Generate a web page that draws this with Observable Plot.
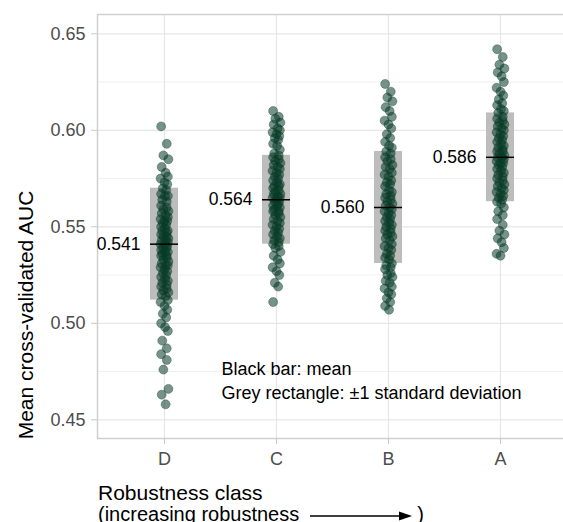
<!DOCTYPE html>
<html>
<head>
<meta charset="utf-8">
<script src="https://cdn.jsdelivr.net/npm/d3@7"></script>
<script src="https://cdn.jsdelivr.net/npm/@observablehq/plot@0.6"></script>
<style>
  body { margin: 0; background: white; font-family: "Liberation Sans", Arial, sans-serif; }
  #wrap { position: relative; width: 563px; height: 522px; overflow: hidden; }
  #xtitle { position: absolute; left: 98px; top: 482px; font-size: 21px; line-height: 21px; color: #000; white-space: nowrap; }
  #xtitle .l2 { font-size: 20px; }
  #xtitle svg { vertical-align: middle; margin-left: 11px; margin-right: 5px; }
  #ytitle { position: absolute; left: 26px; top: 315px; font-size: 21px; color: #000; white-space: nowrap; transform: translate(-50%, -50%) rotate(-90deg); }
</style>
</head>
<body>
<div id="wrap">
  <div id="chart"></div>
  <div id="ytitle"></div>
  <div id="xtitle">Robustness class<br><span class="l2">(increasing robustness<svg width="102" height="10" viewBox="0 0 102 10"><line x1="0" y1="5" x2="92" y2="5" stroke="#000" stroke-width="1.4"/><path d="M89,0.5 L102,5 L89,9.5 Z" fill="#000"/></svg>)</span></div>
</div>
<script>
const classes = ["D", "C", "B", "A"];

const valuesD = [0.602, 0.593, 0.587, 0.585, 0.581, 0.578, 0.576, 0.575, 0.573, 0.572, 0.570, 0.569, 0.567, 0.566, 0.566, 0.564, 0.563, 0.561, 0.560, 0.559, 0.558, 0.557, 0.556, 0.555, 0.554, 0.553, 0.553, 0.552, 0.551, 0.550, 0.549, 0.548, 0.548, 0.547, 0.546, 0.545, 0.545, 0.544, 0.543, 0.543, 0.542, 0.541, 0.541, 0.540, 0.539, 0.539, 0.538, 0.537, 0.537, 0.536, 0.535, 0.535, 0.534, 0.533, 0.532, 0.531, 0.530, 0.530, 0.529, 0.528, 0.527, 0.526, 0.525, 0.524, 0.523, 0.522, 0.521, 0.520, 0.519, 0.518, 0.517, 0.516, 0.515, 0.514, 0.512, 0.511, 0.509, 0.507, 0.505, 0.503, 0.500, 0.498, 0.496, 0.491, 0.487, 0.484, 0.481, 0.476, 0.466, 0.463, 0.458];
const valuesC = [0.610, 0.607, 0.606, 0.604, 0.603, 0.601, 0.600, 0.599, 0.598, 0.597, 0.596, 0.595, 0.593, 0.592, 0.590, 0.588, 0.587, 0.586, 0.585, 0.584, 0.583, 0.582, 0.581, 0.580, 0.579, 0.578, 0.577, 0.576, 0.575, 0.574, 0.573, 0.572, 0.571, 0.571, 0.570, 0.569, 0.568, 0.567, 0.567, 0.566, 0.565, 0.565, 0.564, 0.563, 0.563, 0.562, 0.561, 0.561, 0.560, 0.559, 0.558, 0.558, 0.557, 0.556, 0.555, 0.554, 0.553, 0.552, 0.551, 0.550, 0.549, 0.548, 0.547, 0.546, 0.545, 0.544, 0.543, 0.542, 0.541, 0.540, 0.539, 0.537, 0.535, 0.533, 0.531, 0.529, 0.527, 0.525, 0.521, 0.519, 0.511];
const valuesB = [0.624, 0.620, 0.617, 0.615, 0.612, 0.610, 0.607, 0.605, 0.603, 0.601, 0.598, 0.596, 0.594, 0.592, 0.591, 0.589, 0.588, 0.586, 0.585, 0.584, 0.582, 0.581, 0.580, 0.578, 0.577, 0.576, 0.574, 0.573, 0.572, 0.571, 0.569, 0.568, 0.567, 0.566, 0.565, 0.564, 0.563, 0.562, 0.561, 0.560, 0.559, 0.558, 0.557, 0.556, 0.555, 0.554, 0.553, 0.552, 0.551, 0.550, 0.549, 0.548, 0.547, 0.546, 0.545, 0.544, 0.543, 0.541, 0.540, 0.539, 0.538, 0.536, 0.535, 0.534, 0.533, 0.531, 0.530, 0.529, 0.528, 0.526, 0.525, 0.524, 0.522, 0.521, 0.519, 0.518, 0.516, 0.515, 0.513, 0.511, 0.509, 0.507];
const valuesA = [0.642, 0.638, 0.634, 0.632, 0.630, 0.628, 0.625, 0.622, 0.620, 0.618, 0.616, 0.614, 0.613, 0.611, 0.610, 0.609, 0.607, 0.606, 0.605, 0.604, 0.603, 0.602, 0.601, 0.600, 0.599, 0.598, 0.597, 0.596, 0.595, 0.594, 0.593, 0.592, 0.591, 0.590, 0.589, 0.589, 0.588, 0.587, 0.586, 0.586, 0.585, 0.584, 0.583, 0.583, 0.582, 0.581, 0.580, 0.579, 0.578, 0.577, 0.576, 0.575, 0.574, 0.573, 0.572, 0.571, 0.570, 0.569, 0.568, 0.567, 0.566, 0.565, 0.564, 0.563, 0.562, 0.560, 0.558, 0.556, 0.554, 0.551, 0.548, 0.546, 0.544, 0.542, 0.539, 0.536, 0.535];

const means = [0.541, 0.564, 0.560, 0.586];
const sds = [0.029, 0.023, 0.029, 0.023];

const majorTicks = [0.45, 0.50, 0.55, 0.60, 0.65];
const minorTicks = [0.475, 0.525, 0.575, 0.625];

const jitterPattern = [-0.03, 0.02, -0.01, 0.035, -0.025, 0.01, 0.03, -0.035, 0.0, 0.025, -0.015, 0.015, -0.03, 0.005, 0.03, -0.02, 0.02];

const yTitle = "Mean cross-validated AUC";
const noteText = "Black bar: mean\nGrey rectangle: \u00b11 standard deviation";

document.getElementById("ytitle").textContent = yTitle;

const allValues = [valuesD, valuesC, valuesB, valuesA];
const points = [];
allValues.forEach((vals, i) => vals.forEach((v, j) => points.push({cls: classes[i], pos: i + 1 + jitterPattern[j % jitterPattern.length], auc: v})));
const summary = classes.map((c, i) => ({cls: c, pos: i + 1, mean: means[i], sd: sds[i]}));

const xDomain = [1 - 67 / 112, 1 - 67 / 112 + 466 / 112];
const yDomain = [0.4403, 0.66];

const chart = Plot.plot({
  width: 563,
  height: 475,
  marginLeft: 97,
  marginRight: 0,
  marginTop: 14,
  marginBottom: 37,
  style: {fontFamily: "'Liberation Sans', Arial, sans-serif", background: "white", overflow: "visible"},
  x: {domain: xDomain},
  y: {domain: yDomain},
  marks: [
    Plot.gridY(minorTicks, {stroke: "#f0f0f0", strokeOpacity: 1, strokeWidth: 1}),
    Plot.gridY(majorTicks, {stroke: "#e6e6e6", strokeOpacity: 1, strokeWidth: 1.3}),
    Plot.gridX([1, 2, 3, 4], {stroke: "#e6e6e6", strokeOpacity: 1, strokeWidth: 1.3}),
    Plot.ruleY([yDomain[1], yDomain[0]], {stroke: "#d0d0d0", strokeWidth: 1.5}),
    Plot.ruleX([xDomain[0]], {stroke: "#d0d0d0", strokeWidth: 1.5}),
    Plot.axisY(majorTicks, {tickFormat: d3.format(".2f"), tickSize: 6, tickPadding: 6, fontSize: 18, fill: "#4d4d4d", stroke: "#c8c8c8", label: null}),
    Plot.axisX([1, 2, 3, 4], {tickFormat: i => classes[i - 1], tickSize: 6, tickPadding: 8, fontSize: 18, fill: "#4d4d4d", stroke: "#c8c8c8", label: null}),
    Plot.rect(summary, {x1: d => d.pos - 0.125, x2: d => d.pos + 0.125, y1: d => d.mean - d.sd, y2: d => d.mean + d.sd, fill: "#bdbdbd"}),
    Plot.dot(points, {x: "pos", y: "auc", r: 4.5, fill: "#073b28", fillOpacity: 0.55, stroke: "#073b28", strokeOpacity: 0.35, strokeWidth: 1}),
    Plot.ruleY(summary, {y: "mean", x1: d => d.pos - 0.125, x2: d => d.pos + 0.125, stroke: "black", strokeWidth: 1.5}),
    Plot.text(summary, {x: "pos", y: "mean", text: d => d3.format(".3f")(d.mean), textAnchor: "end", dx: -24, fontSize: 17.5, fill: "black"}),
    Plot.text([noteText], {text: d => d, frameAnchor: "top-left", dx: 124, dy: 344, lineAnchor: "top", lineHeight: 1.3, fontSize: 18, fill: "black"})
  ]
});
document.getElementById("chart").appendChild(chart);
</script>
</body>
</html>
